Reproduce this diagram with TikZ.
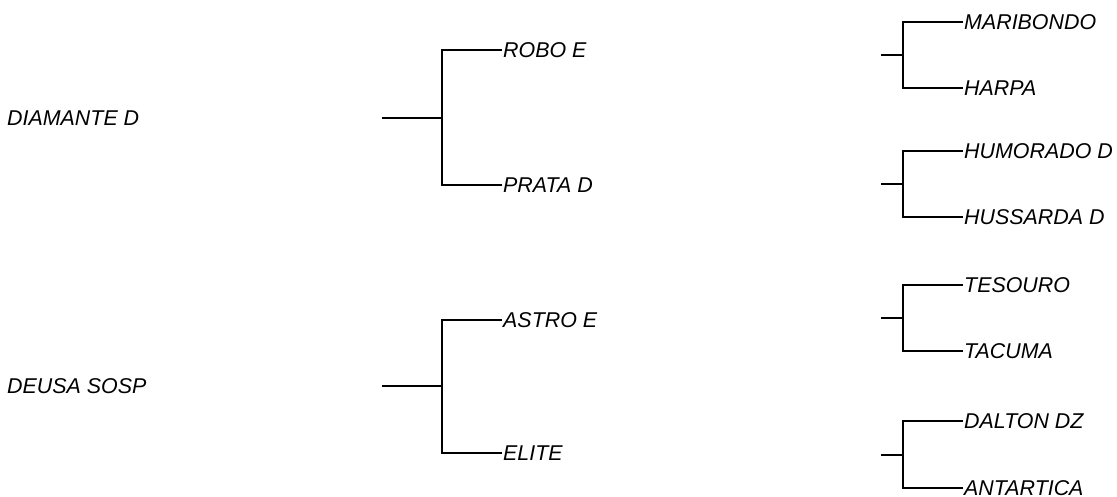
\documentclass[tikz,border=0pt]{standalone}
\usepackage{fontspec}
\setmainfont{Liberation Sans}
\usepackage{tikz}
\usetikzlibrary{positioning,calc}

\begin{document}
\begin{tikzpicture}[
    x=0.5pt, y=-0.5pt,
    lbl/.style={anchor=west, inner xsep=0.4pt, inner ysep=0pt, font=\itshape\fontsize{10.7}{13}\selectfont},
    branch/.style={line width=1.4pt}
]
    \useasboundingbox (0,0) rectangle (1117,497);

    % parents
    \node[lbl] (diamante) at (6,118) {DIAMANTE D};
    \node[lbl] (deusa) at (6,386) {DEUSA SOSP};

    % middle generation
    \coordinate (stemA) at (382,118);
    \coordinate (joinA) at (442,118);
    \node[lbl] (robo) at (502,50) {ROBO E};
    \node[lbl] (prata) at (502,185) {PRATA D};
    \draw[branch] (stemA) -- (joinA);
    \draw[branch] (robo.west) -| (joinA) |- (prata.west);

    \coordinate (stemB) at (382,386);
    \coordinate (joinB) at (442,386);
    \node[lbl] (astro) at (502,320) {ASTRO E};
    \node[lbl] (elite) at (502,453) {ELITE};
    \draw[branch] (stemB) -- (joinB);
    \draw[branch] (astro.west) -| (joinB) |- (elite.west);

    % right generation
    \coordinate (stemC) at (881,55);
    \coordinate (joinC) at (903,55);
    \node[lbl] (maribondo) at (963,22) {MARIBONDO};
    \node[lbl] (harpa) at (963,88) {HARPA};
    \draw[branch] (stemC) -- (joinC);
    \draw[branch] (maribondo.west) -| (joinC) |- (harpa.west);

    \coordinate (stemD) at (881,184);
    \coordinate (joinD) at (903,184);
    \node[lbl] (humorado) at (963,151) {HUMORADO D};
    \node[lbl] (hussarda) at (963,217) {HUSSARDA D};
    \draw[branch] (stemD) -- (joinD);
    \draw[branch] (humorado.west) -| (joinD) |- (hussarda.west);

    \coordinate (stemE) at (881,318);
    \coordinate (joinE) at (903,318);
    \node[lbl] (tesouro) at (963,285) {TESOURO};
    \node[lbl] (tacuma) at (963,351) {TACUMA};
    \draw[branch] (stemE) -- (joinE);
    \draw[branch] (tesouro.west) -| (joinE) |- (tacuma.west);

    \coordinate (stemF) at (881,455);
    \coordinate (joinF) at (903,455);
    \node[lbl] (dalton) at (963,421) {DALTON DZ};
    \node[lbl] (antartica) at (963,488) {ANTARTICA};
    \draw[branch] (stemF) -- (joinF);
    \draw[branch] (dalton.west) -| (joinF) |- (antartica.west);
\end{tikzpicture}
\end{document}
